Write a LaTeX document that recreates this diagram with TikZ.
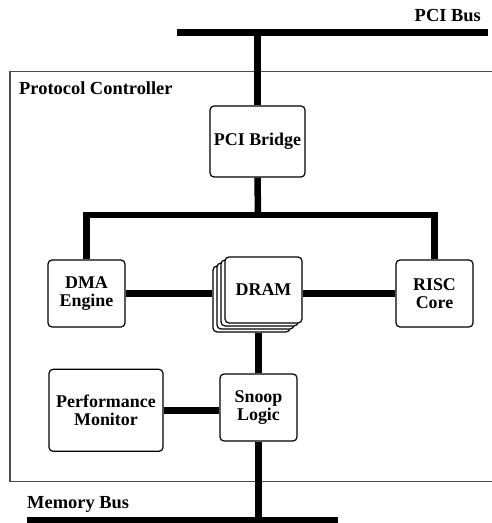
\documentclass[tikz,border=0pt]{standalone}
\usepackage{fontspec}
\setmainfont{Liberation Serif}
\begin{document}
\begin{tikzpicture}
  [x=1bp,y=-1bp,
   block/.style={draw,rounded corners=4bp,line width=1.2bp,fill=white,align=center,
     inner sep=0pt,minimum width=77bp,minimum height=67bp,
     font=\bfseries\fontsize{18}{18}\selectfont},
   bus/.style={line width=6.5bp},
   heading/.style={inner sep=0pt,font=\bfseries\fontsize{18.5}{18}\selectfont}]
  \useasboundingbox (0,0) rectangle (492,523);
  \clip (0,0) rectangle (492,523);

  % controller frame
  \draw[line width=1.2bp,black!70] (10,71.5) rectangle (510,481.5);
  \node[heading,anchor=base west] (ctrl) at (19,94.3) {Protocol Controller};

  % buses
  \coordinate (pci-l) at (177,32.5);
  \coordinate (pci-r) at (488,32.5);
  \coordinate (mem-l) at (27,520);
  \coordinate (mem-r) at (338,520);
  \coordinate (ibus) at (258,215);
  \draw[bus] (pci-l) -- (pci-r);
  \draw[bus] (mem-l) -- (mem-r);
  \node[heading,anchor=base east] (pci) at (481,21.7) {PCI Bus};
  \node[heading,anchor=base west] (mem) at (27,508.3) {Memory Bus};

  % blocks
  \node[block,minimum width=95bp,minimum height=71bp] (bridge) at (257.5,141.5) {PCI Bridge};
  \node[block] (dma) at (86.5,293.5) {DMA\\Engine};
  \node[block] (risc) at (434.5,293.5) {RISC\\Core};
  \foreach \i in {3,2,1}
    \node[block,minimum height=66bp] (dram\i) at ({263.5-4*\i},{290+3*\i}) {};
  \node[block,minimum height=66bp] (dram) at (263.5,290) {DRAM};
  \node[block] (snoop) at (258.5,407.5) {Snoop\\Logic};
  \node[block,minimum width=114bp,minimum height=82bp] (perf) at (106,410.3) {Performance\\Monitor};

  \draw[bus] (bridge.north) -- (bridge.north |- pci-l);
  \draw[bus] (bridge.south) -- (ibus);
  \draw[bus] (dma.north) |- (ibus) -| (risc.north);
  \draw[bus] (dma.east) -- (dma.east -| dram3.west);
  \draw[bus] (risc.west -| dram.east) -- (risc.west);
  \draw[bus] (dram3.south -| snoop.north) -- (snoop.north);
  \draw[bus] (perf.east) -- (perf.east -| snoop.west);
  \draw[bus] (snoop.south) -- (snoop.south |- mem-l);

\end{tikzpicture}
\end{document}
